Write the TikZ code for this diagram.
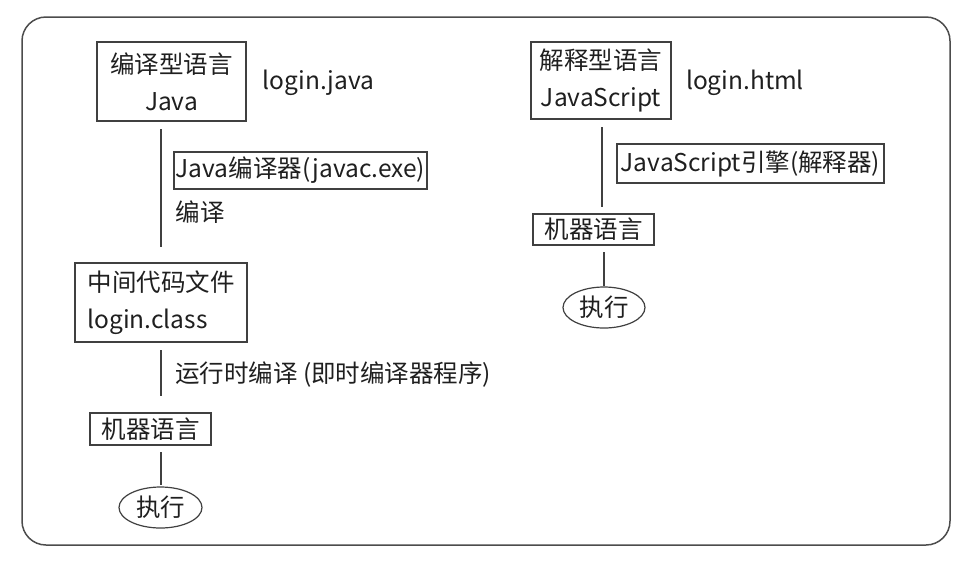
\documentclass[tikz,border=0pt]{standalone}
\usepackage{fontspec}
\setmainfont{Noto Sans CJK SC}
\usetikzlibrary{shapes.geometric}
\begin{document}
\begin{tikzpicture}[x=1pt,y=-1pt,
  every node/.style={font=\fontsize{24.5}{37}\selectfont, text=black!88},
  box/.style={draw=black!75, line width=1.4pt, inner sep=0pt},
  ell/.style={draw=black!75, line width=1.2pt, ellipse, inner sep=0pt},
  conn/.style={draw=black!75, line width=1.4pt}]
\useasboundingbox (0,0) rectangle (963,563);
\draw[black!70, line width=1.5pt, rounded corners=24] (22,17) rectangle (950,545);

% left column
\node[box, minimum width=149, minimum height=79, align=center] (b1) at (171.5,81.5) {编译型语言\\Java};
\node (lj) at (318.5,83) {login.java};
\node[box, minimum width=253, minimum height=37] (jc) at (300.5,170.5) {Java编译器(javac.exe)};
\node (by) at (200,212) {编译};
\node[box, minimum width=172, minimum height=79, align=left] (mid) at (161,302.5) {中间代码文件\\login.class};
\node[anchor=west, inner sep=0pt] (rt) at (175,375) {运行时编译 (即时编译器程序)};
\node[box, minimum width=121, minimum height=32] (m1) at (150.5,429) {机器语言};
\node[ell, minimum width=83, minimum height=41] (e1) at (160.5,507.5) {执行};

\coordinate (l1a) at (161,129);
\coordinate (l1b) at (161,247);
\coordinate (l2a) at (161,350);
\coordinate (l2b) at (161,396);
\coordinate (l3a) at (161,452);
\coordinate (l3b) at (161,485);
\draw[conn] (l1a) -- (l1b);
\draw[conn] (l2a) -- (l2b);
\draw[conn] (l3a) -- (l3b);

% right column
\node[box, minimum width=140, minimum height=77, align=center] (b2) at (601,80.5) {解释型语言\\JavaScript};
\node (lh) at (745,83) {login.html};
\node[box, minimum width=267, minimum height=39] (je) at (750.5,163.5) {JavaScript引擎(解释器)};
\node[box, minimum width=121, minimum height=31] (m2) at (593.5,229.5) {机器语言};
\node[ell, minimum width=82, minimum height=41] (e2) at (604,307.5) {执行};

\coordinate (r1a) at (602,127);
\coordinate (r1b) at (602,207);
\coordinate (r2a) at (604,252);
\coordinate (r2b) at (604,286);
\draw[conn] (r1a) -- (r1b);
\draw[conn] (r2a) -- (r2b);
\end{tikzpicture}
\end{document}
